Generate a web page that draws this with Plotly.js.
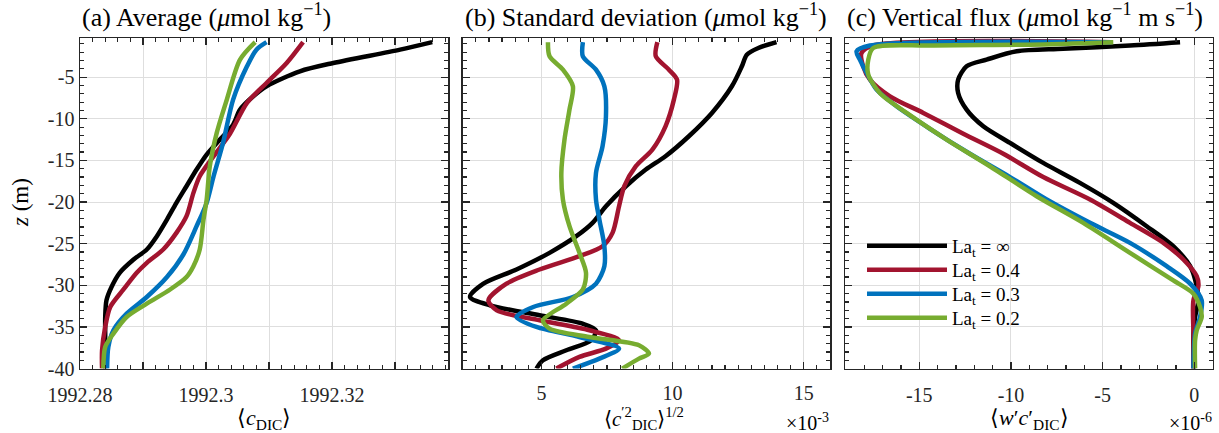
<!DOCTYPE html>
<html>
<head>
<meta charset="utf-8">
<script src="https://cdn.plot.ly/plotly-3.0.1.min.js"></script>
<style>html,body{margin:0;padding:0;background:#fff;}#chart{width:1219px;height:433px;}</style>
</head>
<body>
<div id="chart"></div>
<script>
// ---------- series names / colours ----------
const seriesNames = ['La<sub>t</sub> = ∞', 'La<sub>t</sub> = 0.4', 'La<sub>t</sub> = 0.3', 'La<sub>t</sub> = 0.2'];
const seriesColors = ['#000000', '#A2142F', '#0072BD', '#77AC30'];

// ---------- (a) average c_DIC ----------
const zA_inf = [-0.8,-1.7,-3.3,-4.3,-6.1,-7.3,-8.9,-10.7,-12.5,-14.3,-16.1,-18.1,-20.1,-22.1,-24.1,-25.7,-26.9,-28.5,-30.2,-31.8,-33.8,-35.8,-40];
const avg_inf = [1992.3359,1992.3308,1992.3202,1992.3149,1992.3096,1992.3075,1992.3054,1992.3043,1992.3022,1992.3001,1992.2985,1992.2969,1992.2953,1992.2938,1992.2922,1992.2906,1992.2885,1992.2863,1992.2850,1992.2842,1992.2840,1992.2840,1992.2840];
const zA_04 = [-0.8,-3.3,-5.7,-8.1,-11.8,-14.5,-16.9,-18.9,-21.7,-23.7,-25.7,-27.3,-28.5,-30.5,-32.6,-35.0,-37.8,-40];
const avg_04 = [1992.3154,1992.3128,1992.3096,1992.3065,1992.3038,1992.3012,1992.2990,1992.2980,1992.2969,1992.2953,1992.2932,1992.2906,1992.2890,1992.2869,1992.2848,1992.2840,1992.2835,1992.2835];
const zA_03 = [-0.8,-1.7,-3.7,-7.7,-12.9,-16.9,-20.1,-22.9,-26.3,-29.0,-31.4,-33.4,-35.4,-37.4,-40];
const avg_03 = [1992.3096,1992.3080,1992.3065,1992.3043,1992.3027,1992.3012,1992.3001,1992.2985,1992.2964,1992.2938,1992.2906,1992.2874,1992.2853,1992.2845,1992.2843];
const zA_02 = [-0.8,-2.9,-7.7,-11.7,-15.7,-19.7,-22.1,-25.7,-27.7,-29.0,-30.5,-32.2,-33.8,-35.8,-37.4,-40];
const avg_02 = [1992.3078,1992.3054,1992.3033,1992.3017,1992.3006,1992.3001,1992.2996,1992.2990,1992.2980,1992.2969,1992.2943,1992.2906,1992.2874,1992.2853,1992.2840,1992.2837];

// ---------- (b) standard deviation (x 1e-3) ----------
const zB_inf = [-0.8,-1.5,-2.3,-3.7,-6.1,-9.3,-12.1,-14.5,-16.1,-18.1,-20.5,-22.5,-24.1,-26.1,-28.1,-29.8,-31.4,-32.4,-33.6,-34.6,-35.4,-36.6,-37.8,-39.0,-40];
const std_inf = [13.96,13.27,12.83,12.64,12.26,11.50,10.62,9.73,8.98,8.22,7.46,6.95,6.33,5.31,4.05,2.79,2.28,3.04,4.93,6.57,7.08,6.89,5.95,5.06,4.81];
const zB_04 = [-0.8,-2.5,-4.1,-5.3,-7.7,-10.9,-13.7,-15.7,-18.1,-20.5,-23.7,-25.3,-26.5,-28.1,-29.8,-31.8,-33.0,-34.2,-35.4,-36.6,-37.6,-38.6,-40];
const std_04 = [9.42,9.36,9.86,10.17,10.05,9.73,9.23,8.60,8.16,7.96,7.71,7.33,6.45,4.93,3.67,2.98,3.30,4.93,6.83,7.96,7.46,6.45,5.57];
const zB_03 = [-0.8,-2.5,-4.1,-6.1,-9.7,-13.3,-16.5,-19.7,-22.1,-25.3,-27.7,-29.8,-31.4,-32.6,-33.8,-35.0,-36.2,-37.6,-38.8,-40];
const std_03 = [6.58,6.58,7.08,7.40,7.46,7.33,7.08,7.08,7.21,7.40,7.40,7.08,6.20,4.69,4.05,4.81,6.45,7.96,7.21,6.20];
const zB_02 = [-0.8,-2.5,-4.1,-6.1,-8.9,-12.5,-16.5,-19.7,-22.9,-26.1,-28.5,-30.5,-32.2,-34.2,-35.2,-36.2,-37.2,-38.2,-38.8,-40];
const std_02 = [5.25,5.31,5.82,6.20,6.07,5.88,5.76,5.82,6.07,6.45,6.70,6.58,5.95,5.06,5.31,6.83,8.72,9.10,8.72,8.08];

// ---------- (c) vertical flux (x 1e-6) ----------
const zC_inf = [-0.8,-1.2,-1.6,-1.9,-2.9,-3.7,-5.3,-6.9,-8.9,-10.9,-12.9,-15.3,-17.7,-20.1,-22.9,-25.3,-27.7,-30.1,-31.8,-33.8,-35.8,-40];
const flux_inf = [-0.78,-3.51,-7.15,-9.69,-11.33,-12.42,-12.88,-12.88,-12.42,-11.51,-10.05,-8.24,-6.24,-4.42,-2.60,-1.15,-0.23,0.13,0.22,0.04,-0.05,-0.05];
const zC_04 = [-0.8,-1.2,-2.1,-3.7,-5.3,-7.3,-9.3,-11.8,-14.2,-17.0,-19.7,-22.5,-24.9,-26.9,-28.9,-30.1,-31.8,-35.8,-40];
const flux_04 = [-4.5,-17.51,-18.15,-18.06,-17.69,-16.60,-14.78,-12.60,-10.42,-8.24,-5.69,-3.51,-1.69,-0.60,0.13,0.22,-0.05,-0.05,-0.05];
const zC_03 = [-0.8,-1.2,-1.9,-2.9,-4.5,-6.5,-8.5,-11.2,-14.2,-17.0,-19.7,-22.5,-24.9,-27.7,-29.8,-31.8,-33.8,-35.8,-40];
const flux_03 = [-4.5,-17.69,-18.42,-18.24,-17.87,-17.33,-16.24,-14.42,-12.24,-10.05,-8.05,-5.69,-3.51,-1.51,-0.23,0.40,0.31,0.04,-0.05];
const zC_02 = [-0.8,-1.1,-1.2,-1.5,-2.9,-4.7,-6.9,-9.3,-12.5,-15.7,-19.3,-22.5,-26.1,-29.4,-31.0,-32.6,-33.8,-35.4,-36.6,-40];
const flux_02 = [-4.42,-8.97,-14.42,-17.51,-17.78,-17.78,-17.15,-15.69,-13.51,-11.15,-8.60,-6.06,-3.51,-1.15,-0.05,0.31,0.40,0.13,0.04,0.04];

// ---------- ticks ----------
const zTickVals = [-40,-35,-30,-25,-20,-15,-10,-5];
const zTickText = ['-40','-35','-30','-25','-20','-15','-10','-5'];
const aTickVals = [1992.28,1992.29,1992.30,1992.31,1992.32,1992.33];
const aTickText = ['1992.28','','1992.3','','1992.32',''];
const bTickVals = [5,10,15];
const bTickText = ['5','10','15'];
const cTickVals = [-15,-10,-5,0];
const cTickText = ['-15','-10','-5','0'];

const FONT = 'Liberation Serif';
const AX = '#262626';
const W = 1219, H = 433;

const panelA = [[avg_inf,zA_inf],[avg_04,zA_04],[avg_03,zA_03],[avg_02,zA_02]];
const panelB = [[std_inf,zB_inf],[std_04,zB_04],[std_03,zB_03],[std_02,zB_02]];
const panelC = [[flux_inf,zC_inf],[flux_04,zC_04],[flux_03,zC_03],[flux_02,zC_02]];
const legendIds = ['legend', 'legend2', 'legend3', 'legend4'];
const legendRowY = [246, 270, 294, 318];   // pixel rows of legend entries

const traces = [];
function addPanel(data, xa, ya, legend) {
  data.forEach((d, i) => {
    traces.push({
      x: d[0], y: d[1], xaxis: xa, yaxis: ya, type: 'scatter', mode: 'lines',
      line: {color: seriesColors[i], width: 4.5, shape: 'spline', smoothing: 0.8},
      name: seriesNames[i], showlegend: legend, legend: legendIds[i], hoverinfo: 'skip'
    });
  });
}
addPanel(panelA, 'x', 'y', false);
addPanel(panelB, 'x2', 'y2', false);
addPanel(panelC, 'x3', 'y3', true);

function axis(extra) {
  return Object.assign({
    showline: true, linecolor: AX, linewidth: 1.5, mirror: 'ticks',
    ticks: 'inside', ticklen: 7, tickwidth: 1.2, tickcolor: AX,
    showgrid: true, gridcolor: '#dedede', gridwidth: 1, zeroline: false,
    tickfont: {family: FONT, size: 20, color: AX}, tickmode: 'array'
  }, extra);
}
function minor(t0, dt) {
  return {tickmode: 'linear', tick0: t0, dtick: dt, ticks: 'inside', ticklen: 4, tickcolor: AX, showgrid: false};
}
const yDom = [(H - 368.6) / H, (H - 38) / H];

const layout = {
  width: W, height: H,
  margin: {l: 0, r: 0, t: 0, b: 0},
  paper_bgcolor: '#fff', plot_bgcolor: '#fff',
  font: {family: FONT, color: '#000'},
  showlegend: true,
  xaxis: axis({domain: [80 / W, 448 / W], anchor: 'y', range: [1992.28, 1992.3384],
    tickvals: aTickVals, ticktext: aTickText, ticklabelstandoff: 8, minor: minor(1992.28, 0.002)}),
  yaxis: axis({domain: yDom, anchor: 'x', range: [-40, -0.3],
    tickvals: zTickVals, ticktext: zTickText, minor: minor(0, 1)}),
  xaxis2: axis({domain: [462.7 / W, 830 / W], anchor: 'y2', range: [2, 16],
    tickvals: bTickVals, ticktext: bTickText, ticklabelstandoff: 6, minor: minor(0, 0.5)}),
  yaxis2: axis({domain: yDom, anchor: 'x2', range: [-40, -0.3], tickvals: zTickVals, showticklabels: false, minor: minor(0, 1)}),
  xaxis3: axis({domain: [845 / W, 1212.7 / W], anchor: 'y3', range: [-19.05, 1],
    tickvals: cTickVals, ticktext: cTickText, ticklabelstandoff: 8, minor: minor(0, 1)}),
  yaxis3: axis({domain: yDom, anchor: 'x3', range: [-40, -0.3], tickvals: zTickVals, showticklabels: false, minor: minor(0, 1)}),
  annotations: [
    {text: '(a) Average (<i>μ</i>mol kg<sup>−1</sup>)', x: 80 / W, y: (H - 34) / H, xanchor: 'left', yanchor: 'bottom', font: {size: 26}},
    {text: '(b) Standard deviation (<i>μ</i>mol kg<sup>−1</sup>)', x: 462.7 / W, y: (H - 34) / H, xanchor: 'left', yanchor: 'bottom', font: {size: 26}},
    {text: '(c) Vertical flux (<i>μ</i>mol kg<sup>−1</sup> m s<sup>−1</sup>)', x: 845 / W, y: (H - 34) / H, xanchor: 'left', yanchor: 'bottom', font: {size: 26}},
    {text: '⟨<i>c</i><sub>DIC</sub>⟩', x: 264 / W, y: 0, yshift: -2, xanchor: 'center', yanchor: 'bottom', font: {size: 22}},
    {text: '⟨<i>c</i><sup>′2</sup><sub>DIC</sub>⟩<sup>1/2</sup>', x: 644 / W, y: 0, yshift: -2, xanchor: 'center', yanchor: 'bottom', font: {size: 21}},
    {text: '⟨<i>w</i>′<i>c</i>′<sub>DIC</sub>⟩', x: 1029 / W, y: 0, yshift: -2, xanchor: 'center', yanchor: 'bottom', font: {size: 22}},
    {text: '×10<sup>-3</sup>', x: 831 / W, y: 0, yshift: -3, xanchor: 'right', yanchor: 'bottom', font: {size: 20}},
    {text: '×10<sup>-6</sup>', x: 1214 / W, y: 0, yshift: -3, xanchor: 'right', yanchor: 'bottom', font: {size: 20}},
    {text: '<i>z</i> (m)', x: 20 / W, y: (H - 203) / H, xanchor: 'center', yanchor: 'middle', textangle: -90, font: {size: 23}}
  ].map(a => Object.assign({xref: 'paper', yref: 'paper', showarrow: false}, a,
    {font: Object.assign({family: FONT, color: '#000'}, a.font)}))
};
legendIds.forEach((id, i) => {
  layout[id] = {x: 862 / W, y: (H - legendRowY[i]) / H, xanchor: 'left', yanchor: 'middle',
    bgcolor: 'rgba(0,0,0,0)', borderwidth: 0, itemwidth: 80,
    font: {family: FONT, size: 19, color: '#000'}};
});

Plotly.newPlot('chart', traces, layout, {staticPlot: true, displayModeBar: false});
</script>
</body>
</html>
